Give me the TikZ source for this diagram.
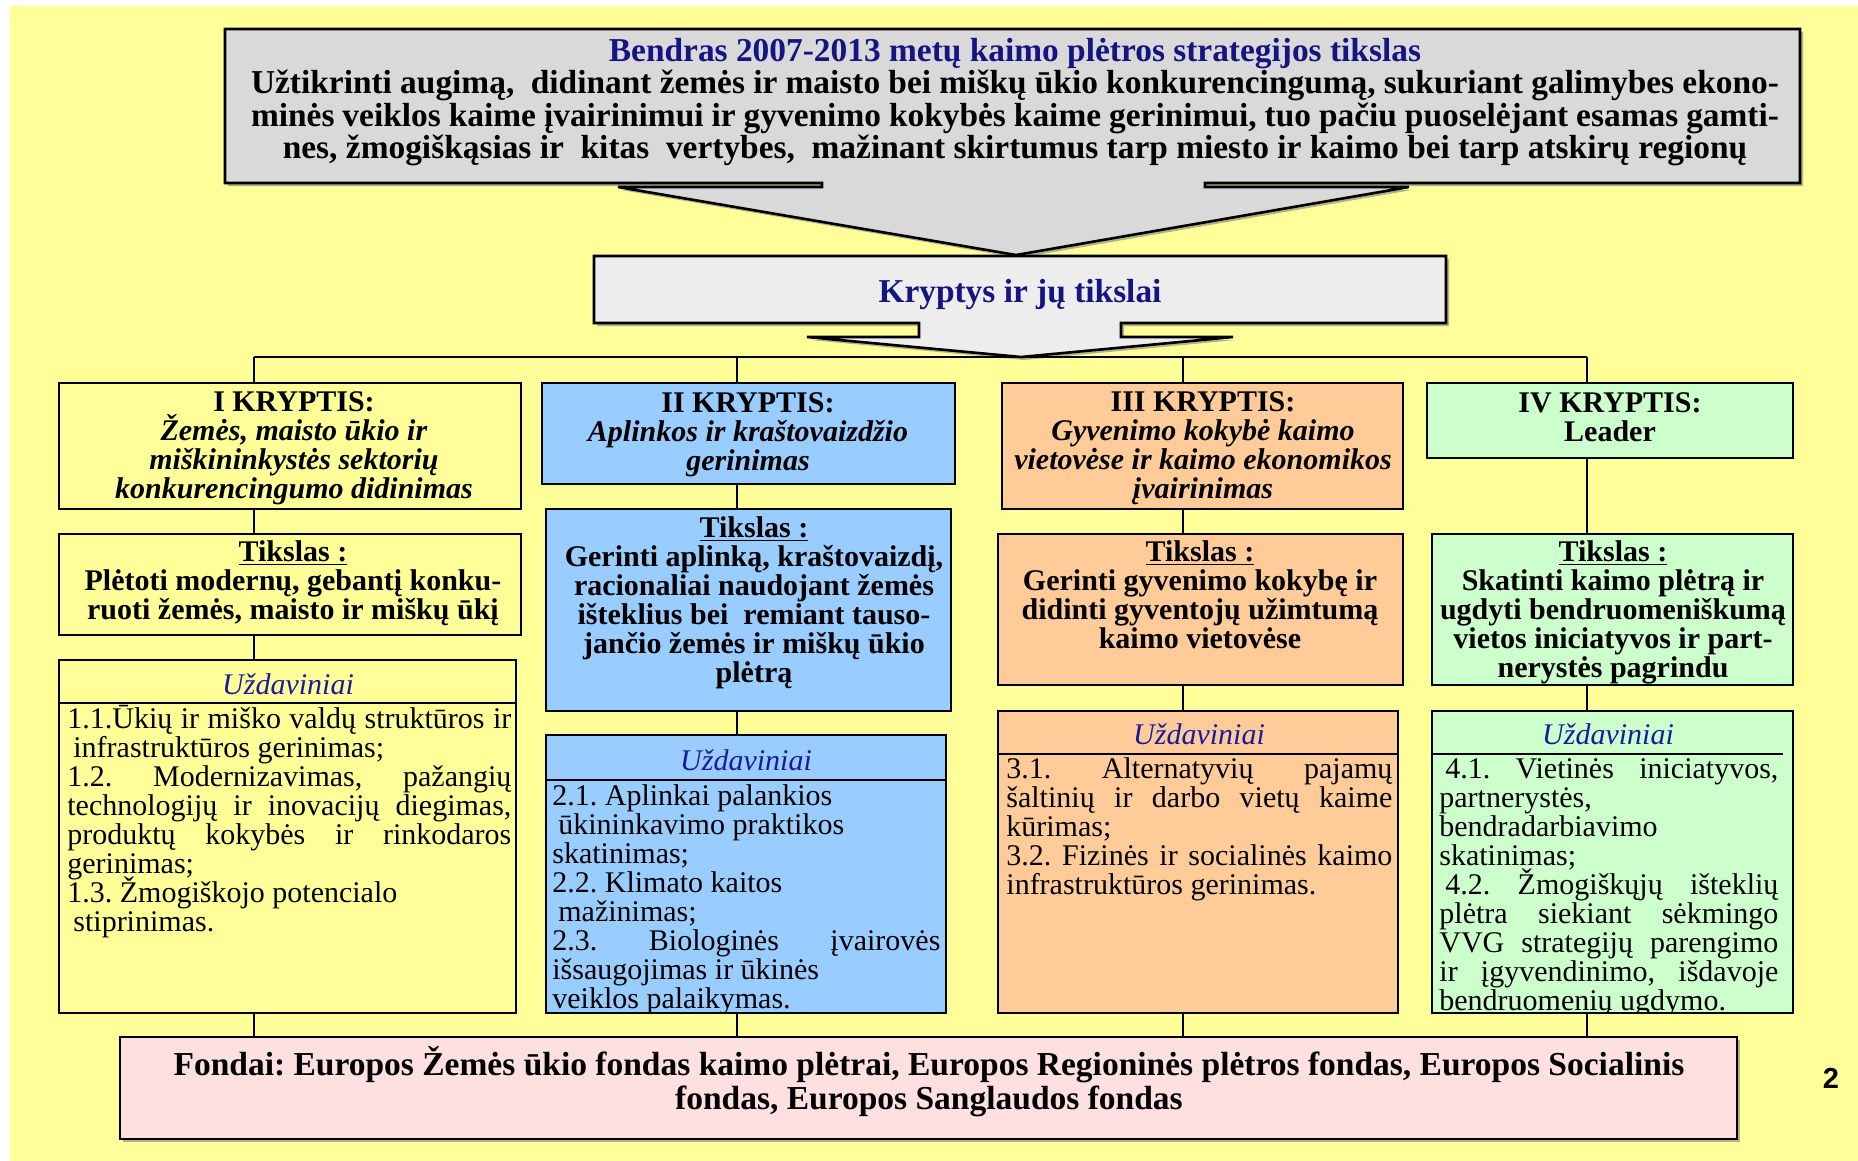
\documentclass[tikz,border=0pt]{standalone}
\usepackage{fontspec}
\setmainfont{Liberation Serif}
\newfontfamily\sansb{Liberation Sans}
\usetikzlibrary{fit,shadows}
\definecolor{bgy}{HTML}{FFFF99}
\definecolor{topg}{HTML}{D9D9D9}
\definecolor{krg}{HTML}{EDEDED}
\definecolor{cblue}{HTML}{99CCFF}
\definecolor{corange}{HTML}{FFCC99}
\definecolor{cgreen}{HTML}{CCFFCC}
\definecolor{cpink}{HTML}{FFE0E0}
\definecolor{navyc}{HTML}{141482}
\definecolor{uzblue}{HTML}{1A1AA0}
\newcommand{\J}[1]{\makebox[\W][s]{#1}}
\newcommand{\normsp}{\spaceskip=0pt\relax\xspaceskip=0pt\relax\lineskiplimit=-100pt\relax\lineskip=0pt\relax}
\begin{document}
\frenchspacing
\begin{tikzpicture}[x=0.5pt,y=-0.5pt,
  bx/.style={draw=black, line width=1.3pt, inner sep=0pt},
  shd/.style={drop shadow={shadow xshift=1.5pt,shadow yshift=-1.5pt,opacity=0.6}},
  conn/.style={draw=black, line width=1pt},
  hd/.style={font=\fontsize{15}{14.5}\selectfont\bfseries, align=center, inner sep=0pt},
  tk/.style={font=\fontsize{15}{14.5}\selectfont\bfseries, align=center, inner sep=0pt, anchor=north},
  uzh/.style={font=\fontsize{15}{15}\selectfont\itshape, text=uzblue, inner sep=0pt, anchor=base},
  body/.style={font=\fontsize{15}{14.5}\selectfont, align=left, inner sep=0pt, anchor=north west},
]
\useasboundingbox (0,0) rectangle (1858,1161);
\fill[white] (0,0) rectangle (1858,1161);
\fill[bgy] (10,6) rectangle (1858,1161);

% top goal shape
\draw[line width=1.3pt, fill=topg, shd] (225,29) -- (1800,29) -- (1800,183) -- (1205,183) -- (1205,187) -- (1409,187) -- (1016,255) -- (618,187) -- (822,187) -- (822,183) -- (225,183) -- cycle;
\node[font=\fontsize{16.7}{16.2}\selectfont\bfseries, align=center, inner sep=0pt] (goal) at (1015,102) {%
\textcolor{navyc}{Bendras 2007-2013 metų kaimo plėtros strategijos tikslas}\\
\makebox[764pt][s]{Užtikrinti augimą, \ didinant žemės ir maisto bei miškų ūkio konkurencingumą, sukuriant galimybes ekono-}\\
\makebox[764pt][s]{minės veiklos kaime įvairinimui ir gyvenimo kokybės kaime gerinimui, tuo pačiu puoselėjant esamas gamti-}\\
nes, žmogiškąsias ir \ kitas \ vertybes, \ mažinant skirtumus tarp miesto ir kaimo bei tarp atskirų regionų};

% Kryptys shape
\draw[line width=1.3pt, fill=krg, shd] (594,256) -- (1446,256) -- (1446,323) -- (1121,323) -- (1121,337) -- (1233,337) -- (1021,357) -- (807,337) -- (919,337) -- (919,323) -- (594,323) -- cycle;
\node[font=\fontsize{16.7}{17}\selectfont\bfseries, text=navyc, inner sep=0pt] (krt) at (1020,295) {Kryptys ir jų tikslai};

% column direction boxes
\node[bx, fill=bgy, fit={(59,383) (521,509)}] (k1) {};
\node[bx, fill=cblue, fit={(542,383) (955,484)}] (k2) {};
\node[bx, fill=corange, fit={(1002,383) (1403,509)}] (k3) {};
\node[bx, fill=cgreen, fit={(1427,383) (1793,458)}] (k4) {};
\node[hd] (k1t) at (294,448) {I KRYPTIS:\\ \textit{Žemės, maisto ūkio ir}\\ \textit{miškininkystės sektorių}\\ \textit{konkurencingumo didinimas}};
\node[hd] (k2t) at (748,435) {II KRYPTIS:\\ \textit{Aplinkos ir kraštovaizdžio}\\ \textit{gerinimas}};
\node[hd] (k3t) at (1203,448) {III KRYPTIS:\\ \textit{Gyvenimo kokybė kaimo}\\ \textit{vietovėse ir kaimo ekonomikos}\\ \textit{įvairinimas}};
\node[hd] (k4t) at (1610,417) {IV KRYPTIS:\\ Leader};

% goal boxes
\node[bx, fill=bgy, fit={(59,534) (521,635)}] (t1) {};
\node[bx, fill=cblue, fit={(546,509) (951,711)}] (t2) {};
\node[bx, fill=corange, fit={(998,534) (1403,685)}] (t3) {};
\node[bx, fill=cgreen, fit={(1432,534) (1793,685)}] (t4) {};
\node[tk] (t1t) at (293,533) {\rule{0pt}{14pt}\underline{Tikslas :}\\ Plėtoti modernų, gebantį konku-\\ ruoti žemės, maisto ir miškų ūkį};
\node[tk] (t2t) at (754,509) {\rule{0pt}{14pt}\underline{Tikslas :}\\ Gerinti aplinką, kraštovaizdį,\\ racionaliai naudojant žemės\\ išteklius bei \ remiant tauso-\\ jančio žemės ir miškų ūkio\\ plėtrą};
\node[tk] (t3t) at (1200,533) {\rule{0pt}{14pt}\underline{Tikslas :}\\ Gerinti gyvenimo kokybę ir\\ didinti gyventojų užimtumą\\ kaimo vietovėse};
\node[tk] (t4t) at (1613,533) {\rule{0pt}{14pt}\underline{Tikslas :}\\ Skatinti kaimo plėtrą ir\\ ugdyti bendruomeniškumą\\ vietos iniciatyvos ir part-\\ nerystės pagrindu};

% task boxes
\node[bx, fill=bgy, fit={(59,660) (516,1013)}] (u1) {};
\node[bx, fill=cblue, fit={(546,735) (946,1013)}] (u2) {};
\node[bx, fill=corange, fit={(998,711) (1398,1013)}] (u3) {};
\node[bx, fill=cgreen, fit={(1432,711) (1793,1013)}] (u4) {};
\draw[line width=1.3pt] (59,703) -- (516,703);
\draw[line width=1.3pt] (546,780) -- (946,780);
\draw[line width=1.3pt] (998,754) -- (1398,754);
\draw[line width=1.3pt] (1432,754) -- (1783,754);
\node[uzh] (u1h) at (288,694) {Uždaviniai};
\node[uzh] (u2h) at (746,770) {Uždaviniai};
\node[uzh] (u3h) at (1199,744) {Uždaviniai};
\node[uzh] (u4h) at (1608,744) {Uždaviniai};

\begin{scope}
\clip (59,704) rectangle (516,1012);
\node[body, text width=222pt] (u1b) at (67,700) {\normsp\def\W{222pt}\rule{0pt}{14pt}\J{1.1.Ūkių ir miško valdų struktūros ir}\\
\hspace*{3pt}infrastruktūros gerinimas;\\
\J{1.2. Modernizavimas, pažangių}\\
\J{technologijų ir inovacijų diegimas,}\\
\J{produktų kokybės ir rinkodaros}\\
gerinimas;\\
1.3. Žmogiškojo potencialo\\
\hspace*{3pt}stiprinimas.};
\end{scope}
\begin{scope}
\clip (546,781) rectangle (946,1012);
\node[body, text width=194pt] (u2b) at (552,777) {\normsp\def\W{194pt}\rule{0pt}{14pt}2.1. Aplinkai palankios\\
\hspace*{3pt}ūkininkavimo praktikos\\
skatinimas;\\
2.2. Klimato kaitos\\
\hspace*{3pt}mažinimas;\\
\J{2.3. Biologinės įvairovės}\\
išsaugojimas ir ūkinės\\
veiklos palaikymas.};
\end{scope}
\begin{scope}
\clip (998,755) rectangle (1398,1012);
\node[body, text width=193pt] (u3b) at (1006,750) {\normsp\def\W{193pt}\rule{0pt}{14pt}\J{3.1. Alternatyvių pajamų}\\
\J{šaltinių ir darbo vietų kaime}\\
kūrimas;\\
\J{3.2. Fizinės ir socialinės kaimo}\\
infrastruktūros gerinimas.};
\end{scope}
\begin{scope}
\clip (1432,755) rectangle (1793,1012);
\node[body, text width=169.5pt] (u4b) at (1439,750) {\normsp\def\W{169.5pt}\rule{0pt}{14pt}\J{\hspace*{3pt}4.1. Vietinės iniciatyvos,}\\
partnerystės,\\
bendradarbiavimo\\
skatinimas;\\
\J{\hspace*{3pt}4.2. Žmogiškųjų išteklių}\\
\J{plėtra siekiant sėkmingo}\\
\J{VVG strategijų parengimo}\\
\J{ir įgyvendinimo, išdavoje}\\
bendruomenių ugdymo.};
\end{scope}

% funds box
\node[bx, fill=cpink, shd, fit={(120,1037) (1737,1139)}] (fond) {};
\node[font=\fontsize{16.75}{17}\selectfont\bfseries, align=center, inner sep=0pt] (fondt) at (929,1082) {Fondai: Europos Žemės ūkio fondas kaimo plėtrai, Europos Regioninės plėtros fondas, Europos Socialinis\\ fondas, Europos Sanglaudos fondas};
\node[font=\sansb\bfseries\fontsize{14.5}{14.5}\selectfont, inner sep=0pt] (pg) at (1831,1078) {2};

% connectors
\coordinate (bar) at (0,357);
\coordinate (s1) at (254,0);
\coordinate (s2) at (737,0);
\coordinate (s3) at (1183,0);
\coordinate (s4) at (1587,0);
\draw[conn] (s1 |- bar) -- (s4 |- bar);
\foreach \i in {1,2,3,4}{
  \draw[conn] (s\i |- bar) -- (s\i |- k\i.north);
  \draw[conn] (s\i |- k\i.south) -- (s\i |- t\i.north);
  \draw[conn] (s\i |- t\i.south) -- (s\i |- u\i.north);
  \draw[conn] (s\i |- u\i.south) -- (s\i |- fond.north);
}
\end{tikzpicture}
\end{document}
